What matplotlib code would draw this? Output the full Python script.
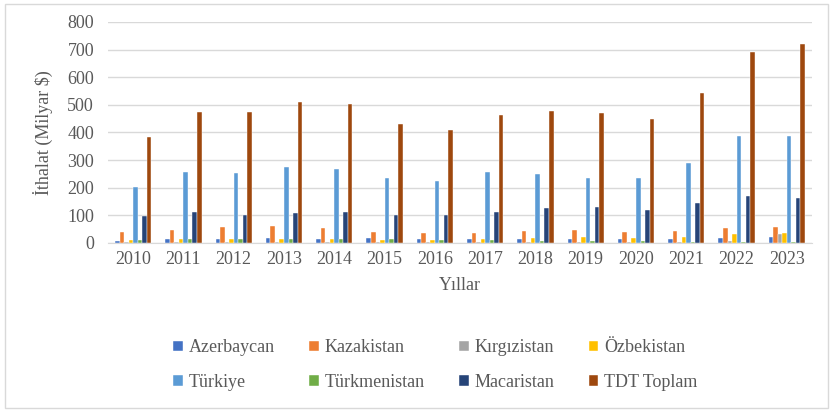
import numpy as np
import matplotlib.pyplot as plt
from matplotlib.patches import Rectangle

plt.rcParams['font.family'] = ['Liberation Serif', 'DejaVu Serif']

# Veriler (Milyar $)
yillar = ['2010', '2011', '2012', '2013', '2014', '2015', '2016',
          '2017', '2018', '2019', '2020', '2021', '2022', '2023']

azerbaycan   = [7, 13, 13, 17, 16, 17, 13, 13, 13, 13, 13, 13, 17, 20]
kazakistan   = [41, 47, 58, 60, 54, 41, 37, 37, 45, 47, 41, 45, 54, 58]
kirgizistan  = [4, 4, 4, 4, 4, 3, 3, 4, 4, 4, 4, 5, 7, 33]
ozbekistan   = [10, 13, 13, 13, 13, 10, 10, 13, 19, 23, 19, 23, 33, 37]
turkiye      = [202, 258, 255, 275, 268, 235, 224, 258, 250, 235, 235, 290, 388, 388]
turkmenistan = [10, 13, 13, 15, 16, 13, 10, 10, 6, 6, 6, 4, 4, 4]
macaristan   = [99, 114, 102, 107, 114, 100, 100, 114, 128, 131, 121, 146, 171, 164]
tdt_toplam   = [384, 475, 475, 511, 504, 431, 409, 464, 478, 471, 449, 543, 692, 721]

seriler = [
    ('Azerbaycan', azerbaycan, '#4472C4'),
    ('Kazakistan', kazakistan, '#ED7D31'),
    ('Kırgızistan', kirgizistan, '#A5A5A5'),
    ('Özbekistan', ozbekistan, '#FFC000'),
    ('Türkiye', turkiye, '#5B9BD5'),
    ('Türkmenistan', turkmenistan, '#70AD47'),
    ('Macaristan', macaristan, '#264478'),
    ('TDT Toplam', tdt_toplam, '#9E480E'),
]

fig = plt.figure(figsize=(8.34, 4.12), dpi=100)
ax = fig.add_axes([108 / 834, 1 - 243 / 412, (812 - 108) / 834, (243 - 22) / 412])

x = np.arange(len(yillar))
w = 0.09
n = len(seriler)
cubuklar = []
for i, (ad, deger, renk) in enumerate(seriler):
    b = ax.bar(x + (i - (n - 1) / 2) * w, deger, w, color=renk, label=ad,
               edgecolor='white', linewidth=0.3, zorder=3)
    cubuklar.append(b)

gri = '#595959'
ax.set_xlim(-0.5, len(yillar) - 0.5)
ax.set_ylim(0, 800)
ax.set_yticks(range(0, 801, 100))
ax.set_xticks(x)
ax.set_xticklabels(yillar)
ax.tick_params(axis='both', length=0, colors=gri, labelsize=13)
ax.tick_params(axis='y', pad=10)
ax.tick_params(axis='x', pad=6)
ax.grid(axis='y', color='#D9D9D9', linewidth=1, zorder=0)
for s in ['top', 'right', 'left']:
    ax.spines[s].set_visible(False)
ax.spines['bottom'].set_color('#D9D9D9')

ax.set_ylabel('İthalat (Milyar $)', color=gri, fontsize=13, labelpad=10)
ax.set_xlabel('Yıllar', color=gri, fontsize=13, labelpad=6)

# legend satir satir dolsun diye sira degistir
sira = [0, 4, 1, 5, 2, 6, 3, 7]
leg = fig.legend([cubuklar[k] for k in sira], [seriler[k][0] for k in sira],
                 loc='center', bbox_to_anchor=(0.522, 1 - 365 / 412), ncol=4,
                 frameon=False, fontsize=13, handlelength=0.55, handleheight=0.55,
                 handletextpad=0.3, columnspacing=1.9, labelspacing=0.95)
for t in leg.get_texts():
    t.set_color(gri)

fig.patches.append(Rectangle((5 / 834, 4 / 412), 823 / 834, 404 / 412,
                             transform=fig.transFigure, fill=False,
                             edgecolor='#D9D9D9', linewidth=1))

fig.savefig('out.png', dpi=100)
